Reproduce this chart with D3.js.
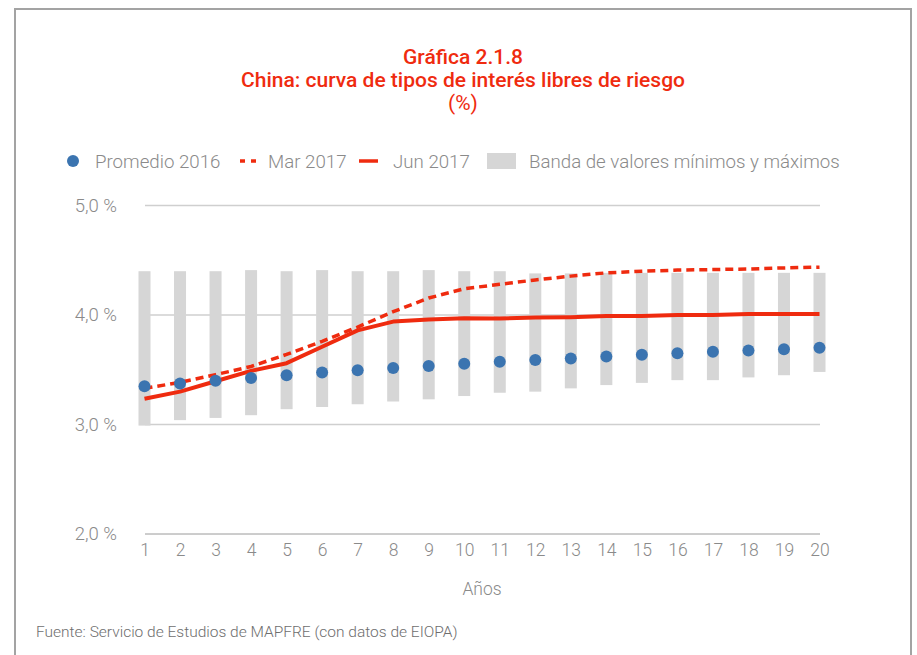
<!DOCTYPE html>
<html>
<head>
<meta charset="utf-8">
<script src="https://cdn.jsdelivr.net/npm/d3@7/dist/d3.min.js"></script>
<style>
  html, body { margin: 0; padding: 0; background: #fff; }
  svg text { font-family: "Roboto", "DejaVu Sans", sans-serif; }
</style>
</head>
<body>
<svg id="chart" width="917" height="655"></svg>
<script>
// Plazos (años)
const years = [1,2,3,4,5,6,7,8,9,10,11,12,13,14,15,16,17,18,19,20];
// Promedio 2016 (%)
const promedio2016 = [3.35,3.375,3.40,3.425,3.45,3.475,3.495,3.515,3.535,3.555,3.572,3.588,3.603,3.62,3.636,3.651,3.664,3.676,3.688,3.70];
// Curva marzo 2017 (%)
const mar2017 = [3.33,3.385,3.455,3.53,3.64,3.76,3.89,4.03,4.155,4.24,4.28,4.32,4.355,4.385,4.40,4.41,4.415,4.42,4.43,4.437];
// Curva junio 2017 (%)
const jun2017 = [3.235,3.30,3.395,3.49,3.56,3.71,3.86,3.94,3.96,3.97,3.968,3.977,3.98,3.99,3.99,4.00,4.00,4.01,4.01,4.01];
// Banda de valores mínimos y máximos (%)
const bandMin = [2.99,3.04,3.06,3.085,3.14,3.16,3.185,3.21,3.23,3.26,3.29,3.30,3.33,3.36,3.38,3.405,3.405,3.43,3.45,3.48];
const bandMax = [4.40,4.40,4.40,4.41,4.40,4.41,4.40,4.40,4.41,4.40,4.40,4.38,4.38,4.385,4.385,4.385,4.385,4.385,4.385,4.385];
// Marcas del eje vertical
const yTicks = [2, 3, 4, 5];

const red = "#ef2b0f", blue = "#3b74b0", band = "#d6d6d6", grey = "#8a8a8a";

const svg = d3.select("#chart");

// Marco exterior (abierto por abajo)
svg.append("path")
  .attr("d", "M15,655 V9 H911 V655")
  .attr("fill", "none").attr("stroke", "#a3a3a3").attr("stroke-width", 2);

// Títulos
const titles = [
  { t: "Gráfica 2.1.8", y: 64, w: 500 },
  { t: "China: curva de tipos de interés libres de riesgo", y: 87, w: 500 },
  { t: "(%)", y: 110, w: 400 }
];
svg.selectAll("text.title").data(titles).enter().append("text")
  .attr("class", "title")
  .attr("x", 463).attr("y", d => d.y)
  .attr("text-anchor", "middle")
  .attr("fill", red)
  .style("font-size", "21px")
  .style("font-weight", d => d.w)
  .text(d => d.t);

const x = d3.scalePoint().domain(years).range([144.5, 819.5]);
const y = d3.scaleLinear().domain([2, 5]).range([534, 205.5]);

// Rejilla horizontal
svg.append("g").selectAll("line").data(yTicks).enter().append("line")
  .attr("x1", 145).attr("x2", 820)
  .attr("y1", d => y(d)).attr("y2", d => y(d))
  .attr("stroke", d => d === 2 ? "#9a9a9a" : "#cfcfcf")
  .attr("stroke-width", d => d === 2 ? 1 : 1.3);

// Eje vertical
const yAxis = d3.axisLeft(y).tickValues(yTicks).tickSize(0).tickPadding(0)
  .tickFormat(d => d3.format(".1f")(d).replace(".", ",") + " %");
const gy = svg.append("g").attr("transform", "translate(117,0)").call(yAxis);
gy.select(".domain").remove();
gy.selectAll("text").attr("fill", grey).style("font-size", "18.5px").style("font-family", "Roboto, sans-serif").style("font-weight", 300);

// Eje horizontal
const xAxis = d3.axisBottom(x).tickSize(0).tickPadding(0);
const gx = svg.append("g").attr("transform", "translate(0,544)").call(xAxis);
gx.select(".domain").remove();
gx.selectAll("text").attr("fill", grey).style("font-size", "17.5px").style("font-family", "Roboto, sans-serif").style("font-weight", 300);

svg.append("text").attr("x", 482).attr("y", 595).attr("text-anchor", "middle")
  .attr("fill", grey).style("font-size", "17.5px").style("font-weight", 300).text("Años");

// Banda de valores mínimos y máximos
const barW = 12;
svg.append("g").selectAll("rect").data(years).enter().append("rect")
  .attr("x", (d) => x(d) - barW / 2)
  .attr("width", barW)
  .attr("y", (d, i) => y(bandMax[i]))
  .attr("height", (d, i) => y(bandMin[i]) - y(bandMax[i]))
  .attr("fill", band);

// Curvas
const line = d3.line().x((d, i) => x(years[i])).y(d => y(d));
svg.append("path").datum(mar2017).attr("d", line)
  .attr("fill", "none").attr("stroke", red).attr("stroke-width", 3.5)
  .attr("stroke-dasharray", "8,5");
svg.append("path").datum(jun2017).attr("d", line)
  .attr("fill", "none").attr("stroke", red).attr("stroke-width", 4)
  .attr("stroke-linejoin", "round");

// Promedio 2016
svg.append("g").selectAll("circle").data(promedio2016).enter().append("circle")
  .attr("cx", (d, i) => x(years[i])).attr("cy", d => y(d))
  .attr("r", 6).attr("fill", blue);

// Leyenda
const lg = svg.append("g").attr("transform", "translate(0,161)");
lg.append("circle").attr("cx", 73).attr("cy", 0).attr("r", 6).attr("fill", blue);
lg.append("line").attr("x1", 240).attr("x2", 259).attr("y1", 0).attr("y2", 0)
  .attr("stroke", red).attr("stroke-width", 3.5).attr("stroke-dasharray", "5,6");
lg.append("line").attr("x1", 359).attr("x2", 378).attr("y1", 0).attr("y2", 0)
  .attr("stroke", red).attr("stroke-width", 3.5);
lg.append("rect").attr("x", 487).attr("y", -8).attr("width", 29).attr("height", 16).attr("fill", band);
const legendItems = [
  { t: "Promedio 2016", x: 95 },
  { t: "Mar 2017", x: 268 },
  { t: "Jun 2017", x: 393 },
  { t: "Banda de valores mínimos y máximos", x: 529 }
];
lg.selectAll("text").data(legendItems).enter().append("text")
  .attr("x", d => d.x).attr("y", 6.5)
  .attr("fill", grey).style("font-size", "18.7px").style("font-weight", 300)
  .text(d => d.t);

// Fuente
svg.append("text").attr("x", 36).attr("y", 637)
  .attr("fill", "#6e6e6e").style("font-size", "15.5px").style("font-weight", 300)
  .text("Fuente: Servicio de Estudios de MAPFRE (con datos de EIOPA)");
</script>
</body>
</html>
